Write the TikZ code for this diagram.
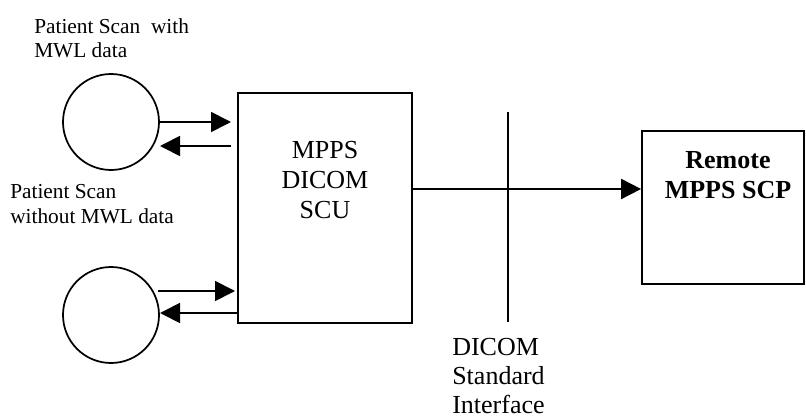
\documentclass[tikz,border=0pt]{standalone}
\usepackage{fontspec}
\setmainfont{Liberation Serif}
\usetikzlibrary{arrows.meta,calc}
\begin{document}
\begin{tikzpicture}[x=0.75pt,y=-0.75pt,
  line/.style={line width=1.3pt},
  arr/.style={line width=1.3pt,-{Triangle[length=15pt,width=15pt]}},
  boxshape/.style={draw,line width=1.3pt,rectangle,inner sep=0pt},
  circ/.style={draw,line width=1.3pt,circle,inner sep=0pt,minimum size=72pt},
  bigtext/.style={inner sep=0pt,font=\fontsize{19.5pt}{22.5pt}\selectfont},
  smalltext/.style={inner sep=0pt,align=left,font=\fontsize{16pt}{18pt}\selectfont}]
\useasboundingbox (0,0) rectangle (806,420);
% nodes
\node[circ] (c1) at (111,122) {};
\node[circ] (c2) at (111,315) {};
\node[boxshape,minimum width=130.5pt,minimum height=172.5pt] (b1) at (325,208) {};
\node[boxshape,minimum width=121.5pt,minimum height=114.75pt] (b2) at (723,207.5) {};
\node[bigtext,align=center,anchor=north] (t1) at (325,141) {MPPS\\DICOM\\SCU};
\node[bigtext,align=center,anchor=north,font=\fontsize{19.5pt}{22.5pt}\selectfont\bfseries] (t2) at (728,151) {Remote\\MPPS SCP};
\node[smalltext,anchor=north west] (l1) at (34,18) {Patient Scan\ \ with\\MWL data};
\node[smalltext,anchor=north west,font=\fontsize{16pt}{18.75pt}\selectfont] (l2) at (10,184) {Patient Scan\\without MWL data};
\node[bigtext,align=left,anchor=north west,font=\fontsize{19.5pt}{21.75pt}\selectfont] (l3) at (452,338) {DICOM\\Standard\\Interface};
% interface line
\coordinate (vtop) at (508,112);
\coordinate (vbot) at (508,322);
\draw[line] (vtop) -- (vbot);
% connectors
\coordinate (a1) at (231,122);
\coordinate (a2s) at (231,146);
\coordinate (a2e) at (160,146);
\draw[arr] (c1.east) -- (a1);
\draw[arr] (a2s) -- (a2e);
\coordinate (a3s) at (158,291);
\coordinate (a3e) at (235,291);
\coordinate (a4s) at (238,313);
\coordinate (a4e) at (160,313);
\draw[arr] (a3s) -- (a3e);
\draw[arr] (a4s) -- (a4e);
\draw[arr] (b1.east |- 0,189) -- (b2.west |- 0,189);
\end{tikzpicture}
\end{document}
